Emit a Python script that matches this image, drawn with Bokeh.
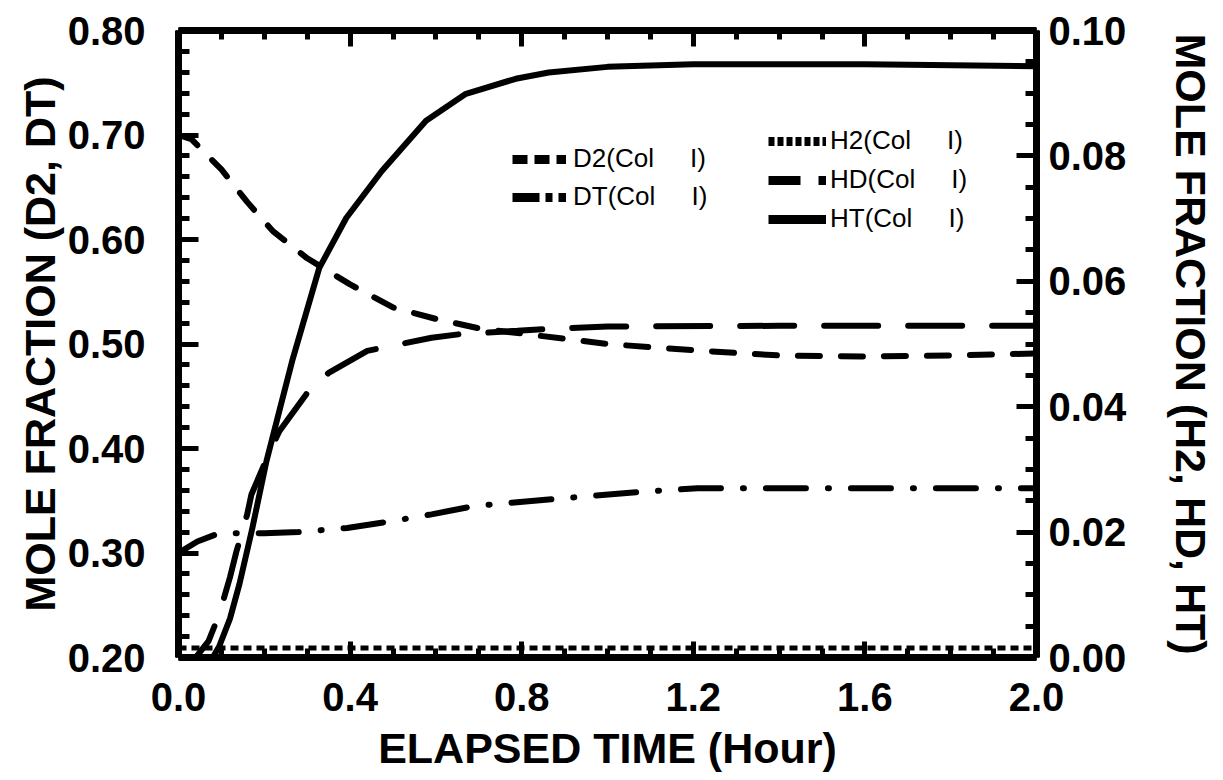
from bokeh.plotting import figure
from bokeh.models import (Range1d, LinearAxis, FixedTicker, NumeralTickFormatter,
                          Legend, LegendItem)
from bokeh.core.properties import value
from bokeh.embed import file_html
from bokeh.resources import INLINE
import numpy as np

# ---------------- data ----------------
# left axis series (D2, DT)
D2_T = [0.0, 0.03, 0.1, 0.16, 0.22, 0.3, 0.4, 0.5, 0.6, 0.7, 0.8, 1.0, 1.2, 1.4, 1.6, 1.8, 2.0]
D2 = [0.700, 0.696, 0.667, 0.636, 0.608, 0.582, 0.557, 0.535, 0.524, 0.515, 0.510,
      0.500, 0.494, 0.489, 0.488, 0.489, 0.491]

DT_T = [0.0, 0.044, 0.095, 0.2, 0.28, 0.393, 0.49, 0.59, 0.69, 0.886, 1.095, 1.21, 1.6, 2.0]
DT = [0.300, 0.311, 0.319, 0.319, 0.320, 0.324, 0.330, 0.337, 0.345, 0.352, 0.359,
      0.362, 0.362, 0.362]

# right axis series (H2, HD, HT)
H2_T = [0.0, 0.5, 1.0, 1.5, 2.0]
H2 = [0.0015, 0.0015, 0.0015, 0.0015, 0.0015]

HD_T = [0.0, 0.04, 0.07, 0.095, 0.12, 0.135, 0.16, 0.17, 0.21, 0.235, 0.3, 0.35, 0.44,
        0.59, 0.66, 0.79, 0.86, 1.0, 1.4, 2.0]
HD = [0.0, 0.0, 0.0026, 0.0069, 0.0128, 0.0169, 0.0228, 0.026, 0.0324, 0.0361, 0.0422,
      0.0454, 0.0489, 0.051, 0.0516, 0.0521, 0.0524, 0.0528, 0.0529, 0.0529]

HT_T = [0.0, 0.08, 0.095, 0.12, 0.142, 0.172, 0.205, 0.235, 0.265, 0.328, 0.391, 0.474,
        0.577, 0.67, 0.786, 0.863, 1.0, 1.2, 1.6, 2.0]
HT = [0.0, 0.0, 0.0018, 0.0062, 0.0117, 0.0206, 0.0313, 0.0393, 0.0473, 0.0621, 0.0701,
      0.0776, 0.0856, 0.0899, 0.0923, 0.0933, 0.0942, 0.0946, 0.0946, 0.0943]

# ticks
X_MAJOR = [0.0, 0.4, 0.8, 1.2, 1.6, 2.0]
YL_MAJOR = [0.2, 0.3, 0.4, 0.5, 0.6, 0.7, 0.8]
YR_MAJOR = [0.0, 0.02, 0.04, 0.06, 0.08, 0.1]

X_LABEL = "ELAPSED TIME (Hour)"
YL_LABEL = "MOLE FRACTION (D2, DT)"
YR_LABEL = "MOLE FRACTION (H2, HD, HT)"

LABELS = {"D2": "D2(Col     I)", "DT": "DT(Col     I)", "H2": "H2(Col     I)",
          "HD": "HD(Col     I)", "HT": "HT(Col     I)"}

# ---------------- figure ----------------
FONT = "Liberation Sans"

p = figure(frame_width=858, frame_height=627,
           min_border_left=178, min_border_right=172,
           min_border_top=30, min_border_bottom=110,
           x_range=Range1d(0, 2), y_range=Range1d(0.2, 0.8),
           output_backend="svg", toolbar_location=None,
           background_fill_color="white", border_fill_color="white")
p.extra_y_ranges = {"r": Range1d(0, 0.1)}
p.outline_line_color = None
p.grid.visible = False

x_minor = [round(v, 2) for v in np.arange(0, 2.0001, 0.1)]
yl_minor = [round(v, 3) for v in np.arange(0.2, 0.80001, 0.02)]
yr_minor = [round(v, 4) for v in np.arange(0, 0.10001, 0.005)]

x_ticker = FixedTicker(ticks=X_MAJOR, minor_ticks=x_minor)
yl_ticker = FixedTicker(ticks=YL_MAJOR, minor_ticks=yl_minor)
yr_ticker = FixedTicker(ticks=YR_MAJOR, minor_ticks=yr_minor)


def style_axis(ax, major_in, minor_in):
    ax.axis_line_width = 7
    ax.axis_line_color = "black"
    ax.major_tick_in = major_in
    ax.major_tick_out = 0
    ax.minor_tick_in = minor_in
    ax.minor_tick_out = 0
    ax.major_tick_line_width = 5
    ax.minor_tick_line_width = 5
    ax.major_tick_line_color = "black"
    ax.minor_tick_line_color = "black"
    ax.major_label_text_font = FONT
    ax.major_label_text_font_style = "bold"
    ax.major_label_text_font_size = "40px"
    ax.major_label_text_color = "black"
    ax.axis_label_text_font = FONT
    ax.axis_label_text_font_style = "bold"
    ax.axis_label_text_font_size = "43px"
    ax.axis_label_text_color = "black"


# bottom
xb = p.xaxis[0]
xb.ticker = x_ticker
xb.formatter = NumeralTickFormatter(format="0.0")
xb.axis_label = X_LABEL
style_axis(xb, 16, 9)
xb.major_label_standoff = 25
xb.axis_label_standoff = 10

# left
yl = p.yaxis[0]
yl.ticker = yl_ticker
yl.formatter = NumeralTickFormatter(format="0.00")
yl.axis_label = YL_LABEL
style_axis(yl, 20, 11)
yl.major_label_standoff = 33
yl.axis_label_standoff = 1

# top (ticks only)
xt = LinearAxis(ticker=x_ticker, formatter=NumeralTickFormatter(format="0.0"))
style_axis(xt, 16, 9)
xt.major_label_text_font_size = "0px"
xt.major_label_text_color = None
xt.major_label_standoff = 0
p.add_layout(xt, "above")

# right
yr = LinearAxis(y_range_name="r", ticker=yr_ticker,
                formatter=NumeralTickFormatter(format="0.00"))
yr.axis_label = YR_LABEL
style_axis(yr, 20, 11)
yr.major_label_standoff = 12
yr.axis_label_standoff = 38
p.add_layout(yr, "right")

# ---------------- series ----------------
r_h2 = p.line(H2_T, H2, y_range_name="r", line_color="black", line_width=5,
              line_dash="8 5")
r_d2 = p.line(D2_T, D2, line_color="black", line_width=6, line_dash="22 21",
              line_cap="round")
r_dt = p.line(DT_T, DT, line_color="black", line_width=6, line_dash="40 22 1 22",
              line_cap="round")
r_hd = p.line(HD_T, HD, y_range_name="r", line_color="black", line_width=6,
              line_dash="54 30", line_cap="round")
r_ht = p.line(HT_T, HT, y_range_name="r", line_color="black", line_width=6,
              line_join="round")

# legend sample styles (the reference draws its own short samples);
# hidden copies of each series carry the sample style for the legend only
SAMPLE = {"D2": "15 7", "DT": "27 6 7 6", "H2": "6 3", "HD": "32 18 8", "HT": "solid"}
SERIES = {"D2": (D2_T, D2, "default"), "DT": (DT_T, DT, "default"),
          "H2": (H2_T, H2, "r"), "HD": (HD_T, HD, "r"), "HT": (HT_T, HT, "r")}
proxies = {}
for k, dash in SAMPLE.items():
    xs, ys, rng = SERIES[k]
    proxies[k] = p.line(xs, ys, y_range_name=rng, line_color="black", line_width=9,
                        line_dash=dash, line_cap="butt", visible=False)


def make_legend(keys, loc, spacing, gw, standoff):
    lg = Legend(items=[LegendItem(label=value(LABELS[k]), renderers=[proxies[k]]) for k in keys],
                location=loc)
    lg.border_line_color = None
    lg.background_fill_alpha = 0
    lg.inactive_fill_alpha = 0
    lg.padding = 0
    lg.margin = 0
    lg.spacing = spacing
    lg.glyph_width = gw
    lg.glyph_height = 30
    lg.label_height = 30
    lg.label_standoff = standoff
    lg.label_text_font = FONT
    lg.label_text_font_size = "26px"
    lg.label_text_color = "black"
    return lg


p.add_layout(make_legend(["D2", "DT"], (334, 445), 7, 54, 7))
p.add_layout(make_legend(["H2", "HD", "HT"], (590, 423), 8, 58, 4))

open("out.html", "w").write(file_html(p, INLINE))
